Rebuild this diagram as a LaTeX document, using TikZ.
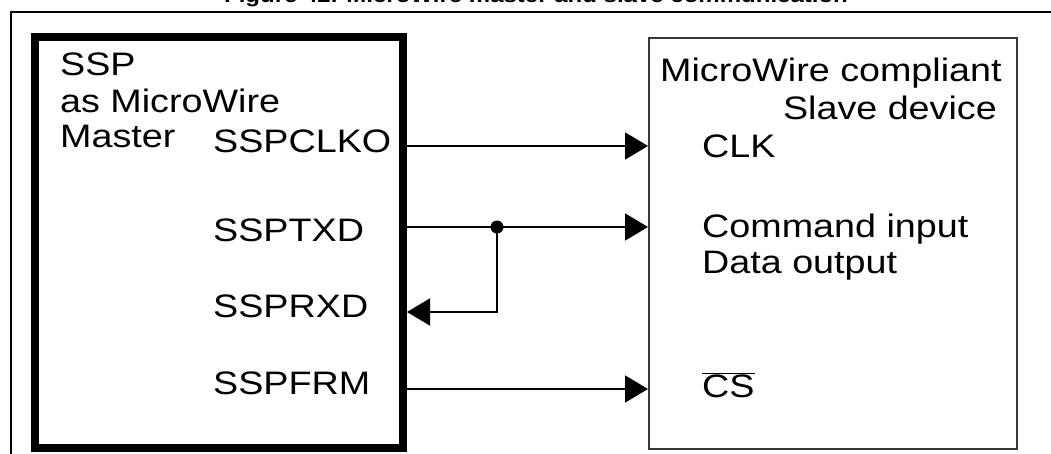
\documentclass[tikz,border=0pt]{standalone}
\usepackage{fontspec}
\setmainfont[FakeStretch=1.16]{Liberation Sans}
\usetikzlibrary{arrows.meta}
\begin{document}
\begin{tikzpicture}[x=1pt,y=-1pt,
  lbl/.style={inner sep=0pt, font=\fontsize{32.5}{36}\selectfont},
  sig/.style={line width=1.8pt},
  tip/.style={-{Triangle[length=23pt,width=27pt]}},
]
\useasboundingbox (0,0) rectangle (1051,454);
% caption (mostly cut off at the top edge)
\node[inner sep=0pt, anchor=base, font=\fontsize{20.7}{24}\selectfont\bfseries] (title) at (536,2.5)
  {Figure 42. MicroWire master and slave communication};
% outer frame
\draw[line width=2pt] (10.5,454) -- (10.5,11.7) -- (1051,11.7);
% boxes
\node[draw, line width=8pt, minimum width=368pt, minimum height=411pt, inner sep=0pt] (master) at (219,242.5) {};
\node[draw=black!78, line width=2pt, minimum width=368pt, minimum height=410pt, inner sep=0pt] (slave) at (833,243.5) {};
% master texts
\node[lbl, anchor=base west] (m1) at (60,76) {SSP};
\node[lbl, anchor=base west] (m2) at (60,113) {as MicroWire};
\node[lbl, anchor=base west] (m3) at (60,148) {Master};
\node[lbl, anchor=base west] (pclk) at (213,153) {SSPCLKO};
\node[lbl, anchor=base west] (ptx) at (213,242) {SSPTXD};
\node[lbl, anchor=base west] (prx) at (213,317) {SSPRXD};
\node[lbl, anchor=base west] (pfrm) at (213,394) {SSPFRM};
% slave texts
\node[lbl, anchor=base west] (s1) at (660,82) {MicroWire compliant};
\node[lbl, anchor=base east] (s2) at (997,120) {Slave device};
\node[lbl, anchor=base west] (sclk) at (702,158) {CLK};
\node[lbl, anchor=base west] (scmd) at (702,238) {Command input};
\node[lbl, anchor=base west] (sdat) at (702,273) {Data output};
\node[lbl, anchor=base west] (scs) at (702,397) {$\overline{\mbox{CS}}$};
% connectors
\coordinate (yclk) at (0,146);
\coordinate (ytx) at (0,227);
\coordinate (yrx) at (0,312);
\coordinate (yfrm) at (0,389);
\node[circle, fill, inner sep=0pt, minimum size=13pt] (dot) at (497,227) {};
\draw[sig,tip] (master.east |- yclk) -- (slave.west |- yclk);
\draw[sig,tip] (master.east |- ytx) -- (slave.west |- ytx);
\draw[sig,tip] (dot.center) |- (master.east |- yrx);
\draw[sig,tip] (master.east |- yfrm) -- (slave.west |- yfrm);
\end{tikzpicture}
\end{document}
